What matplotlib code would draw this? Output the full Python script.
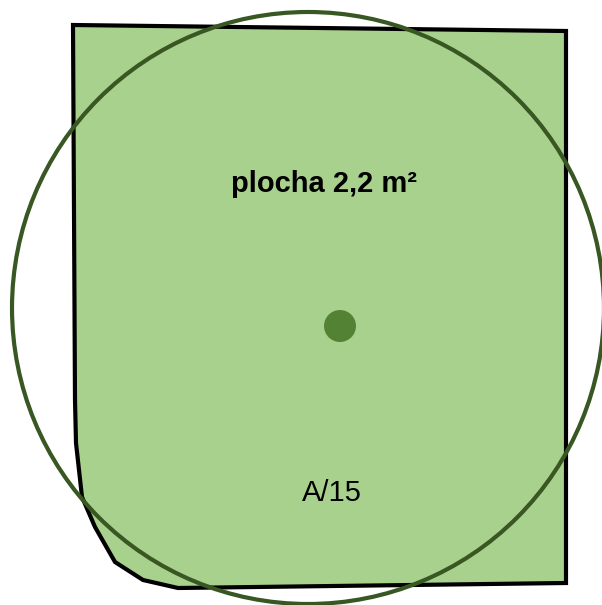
import matplotlib
matplotlib.use("Agg")
import matplotlib.pyplot as plt
from matplotlib.patches import Polygon, Circle

# Shape outline (pixel coordinates of the plan)
poly_x = [73, 566, 566, 178, 143, 115, 95, 82, 76, 75]
poly_y = [25, 31, 583, 588, 580, 562, 527, 497, 443, 400]

circle_center = (308, 308)
circle_radius = 296
dot_center = (340, 326)
dot_radius = 16

label_area = "plocha 2,2 m²"
label_id = "A/15"

fig = plt.figure(figsize=(6.02, 6.05), dpi=100)
ax = fig.add_axes([0, 0, 1, 1])
ax.set_xlim(0, 602)
ax.set_ylim(605, 0)
ax.set_aspect('auto')
ax.axis('off')

ax.add_patch(Polygon(list(zip(poly_x, poly_y)), closed=True, facecolor='#A9D18E',
                     edgecolor='black', linewidth=3, joinstyle='miter'))
ax.add_patch(Circle(circle_center, circle_radius, facecolor='none',
                    edgecolor='#385723', linewidth=3, clip_on=False))
ax.add_patch(Circle(dot_center, dot_radius, facecolor='#548235', edgecolor='none'))

ax.text(324, 184, label_area, ha='center', va='center', fontsize=21,
        fontweight='bold', family='Liberation Sans')
ax.text(332, 493, label_id, ha='center', va='center', fontsize=21,
        family='Liberation Sans')

fig.savefig("out.png", dpi=100)
